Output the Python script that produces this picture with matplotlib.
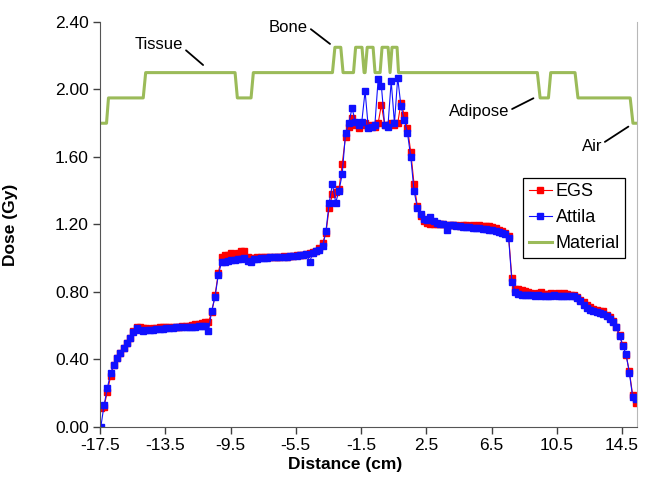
import numpy as np
import matplotlib.pyplot as plt

plt.rcParams['font.family'] = ['Liberation Sans', 'DejaVu Sans']
plt.rcParams['axes.unicode_minus'] = False

# sampling grid along the profile (cm)
dist = np.round(np.arange(-17.45, 15.36, 0.2), 2)

egs = [0.11, 0.12, 0.21, 0.30, 0.37, 0.41, 0.44, 0.47, 0.50, 0.53, 0.57, 0.59,
       0.59, 0.585, 0.585, 0.58, 0.585, 0.585, 0.59, 0.59, 0.59, 0.59, 0.595,
       0.595, 0.595, 0.60, 0.60, 0.60, 0.605, 0.61, 0.61, 0.615, 0.62, 0.625,
       0.68, 0.78, 0.91, 1.01,
       1.02, 1.02, 1.03, 1.02, 1.03, 1.04, 1.04, 1.01, 1.00, 1.00, 1.005, 1.01,
       1.01, 1.005, 1.01, 1.01, 1.005, 1.01, 1.015, 1.01, 1.015, 1.015, 1.02,
       1.02, 1.02, 1.025, 1.03,
       1.035, 1.045, 1.06, 1.09, 1.15, 1.30, 1.38, 1.39, 1.41, 1.56, 1.72, 1.78,
       1.83, 1.79, 1.77, 1.79, 1.80, 1.78, 1.79, 1.78, 1.80, 1.91, 1.79, 1.79,
       1.80, 1.79, 1.80, 1.92, 1.85, 1.77,
       1.63, 1.44, 1.31, 1.25, 1.22, 1.21, 1.205, 1.20, 1.20, 1.20, 1.20, 1.195,
       1.195, 1.195, 1.195, 1.19, 1.195, 1.195, 1.19, 1.195, 1.19, 1.195, 1.19,
       1.19, 1.19, 1.185, 1.18, 1.17, 1.16, 1.15,
       1.13, 0.88, 0.82, 0.815, 0.81, 0.805, 0.80, 0.795, 0.79, 0.795, 0.80,
       0.79, 0.79, 0.795, 0.79, 0.795, 0.79, 0.795, 0.79, 0.785, 0.78, 0.77,
       0.755, 0.74, 0.72, 0.71, 0.70, 0.695, 0.69, 0.685, 0.665, 0.65, 0.63,
       0.595, 0.545, 0.485, 0.425, 0.33, 0.19, 0.14]

attila = [0.00, 0.13, 0.23, 0.32, 0.37, 0.41, 0.44, 0.47, 0.50, 0.53, 0.565, 0.585,
          0.575, 0.57, 0.575, 0.575, 0.575, 0.58, 0.58, 0.58, 0.585, 0.585, 0.585,
          0.59, 0.59, 0.59, 0.59, 0.595, 0.595, 0.595, 0.60, 0.60, 0.60, 0.57,
          0.69, 0.77, 0.90, 0.975,
          0.98, 0.985, 0.99, 0.99, 0.995, 0.995, 1.00, 0.985, 0.98, 0.995, 0.995,
          1.00, 1.00, 1.00, 1.005, 1.005, 1.005, 1.01, 1.01, 1.01, 1.015, 1.015,
          1.015, 1.02, 1.02, 1.025, 0.98,
          1.03, 1.04, 1.05, 1.07, 1.16, 1.33, 1.44, 1.33, 1.40, 1.50, 1.74, 1.80,
          1.89, 1.81, 1.79, 1.81, 1.99, 1.77, 1.78, 1.79, 2.06, 2.02, 1.79, 1.78,
          2.05, 1.80, 2.07, 1.90, 1.82, 1.74,
          1.60, 1.40, 1.30, 1.26, 1.235, 1.225, 1.245, 1.22, 1.21, 1.205, 1.20,
          1.167, 1.197, 1.195, 1.19, 1.19, 1.188, 1.185, 1.185, 1.18, 1.18, 1.178,
          1.175, 1.175, 1.17, 1.165, 1.16, 1.155, 1.15, 1.145,
          1.12, 0.86, 0.80, 0.79, 0.785, 0.78, 0.78, 0.78, 0.775, 0.78, 0.775,
          0.775, 0.775, 0.775, 0.78, 0.775, 0.775, 0.775, 0.775, 0.775, 0.775,
          0.765, 0.745, 0.725, 0.705, 0.695, 0.685, 0.68, 0.675, 0.67, 0.655, 0.64,
          0.62, 0.59, 0.54, 0.48, 0.43, 0.32, 0.18, 0.165]

# material profile (air 1.80, adipose 1.95, tissue 2.10, bone 2.25)
mat_x = [-17.5, -17.1, -16.98, -14.85, -14.7, -9.22, -9.08, -8.24, -8.1, -3.25,
         -3.1, -2.74, -2.6, -1.96, -1.83, -1.44, -1.31, -1.25, -1.12, -0.76,
         -0.64, -0.33, -0.21, 0.16, 0.28, 0.40, 0.71, 0.80, 9.31, 9.48, 9.99,
         10.13, 11.62, 11.8, 15.0, 15.17, 15.42]
mat_y = [1.80, 1.80, 1.95, 1.95, 2.10, 2.10, 1.95, 1.95, 2.10, 2.10,
         2.25, 2.25, 2.10, 2.10, 2.25, 2.25, 2.10, 2.10, 2.25, 2.25,
         2.10, 2.10, 2.25, 2.25, 2.10, 2.25, 2.25, 2.10, 2.10, 1.95, 1.95,
         2.10, 2.10, 1.95, 1.95, 1.80, 1.80]

xticks = [-17.5, -13.5, -9.5, -5.5, -1.5, 2.5, 6.5, 10.5, 14.5]
yticks = [0.0, 0.4, 0.8, 1.2, 1.6, 2.0, 2.4]

fig = plt.figure(figsize=(6.57, 5.03), dpi=100)
ax = fig.add_axes([0.1522, 0.1511, 0.8174, 0.8052])

ax.plot(dist, egs, color='#ff0000', lw=0.8, marker='s', ms=4,
        mec='#ff0000', label='EGS')
ax.plot(dist, attila, color='#1010ff', lw=0.8, marker='s', ms=4,
        mec='#1010ff', label='Attila')
ax.plot(mat_x, mat_y, color='#9bbb59', lw=2.2, label='Material')

ax.set_xlim(-17.5, 15.42)
ax.set_ylim(0, 2.4)
ax.set_xticks(xticks)
ax.set_xticklabels([f'{t:.1f}' for t in xticks])
ax.set_yticks(yticks)
ax.set_yticklabels([f'{t:.2f}' for t in yticks])
ax.tick_params(direction='out', length=5, width=1, labelsize=12.5, pad=3,
               color='#404040')

for s in ['left', 'bottom']:
    ax.spines[s].set_color('#555555')
ax.spines['top'].set_visible(False)
ax.spines['right'].set_color('#b8b8b8')

ax.set_xlabel('Distance (cm)', fontsize=12.5, fontweight='bold')
ax.set_ylabel('Dose (Gy)', fontsize=12.5, fontweight='bold')
ax.xaxis.set_label_coords(0.456, -0.075)
ax.yaxis.set_label_coords(-0.152, 0.5)

lines = dict(arrowstyle='-', color='black', lw=1.3, shrinkA=0, shrinkB=0)
ax.annotate('Tissue', xy=(-11.18, 2.145), xytext=(-13.88, 2.264),
            ha='center', va='center', fontsize=12,
            arrowprops=dict(lines, relpos=(1, 0.3)))
ax.annotate('Bone', xy=(-3.40, 2.27), xytext=(-5.94, 2.37),
            ha='center', va='center', fontsize=12,
            arrowprops=dict(lines, relpos=(1, 0.5)))
ax.annotate('Adipose', xy=(9.07, 1.948), xytext=(5.74, 1.867),
            ha='center', va='center', fontsize=12,
            arrowprops=dict(lines, relpos=(1, 0.6)))
ax.annotate('Air', xy=(14.89, 1.78), xytext=(12.65, 1.661),
            ha='center', va='center', fontsize=12,
            arrowprops=dict(lines, relpos=(1, 0.7)))

leg = ax.legend(loc='upper left', bbox_to_anchor=(0.788, 0.615),
                borderaxespad=0, fontsize=13, fancybox=False,
                edgecolor='black', framealpha=1, handlelength=1.3,
                handletextpad=0.2, borderpad=0.3, labelspacing=0.5)
leg.get_frame().set_linewidth(0.9)

fig.savefig('out.png', dpi=100)
